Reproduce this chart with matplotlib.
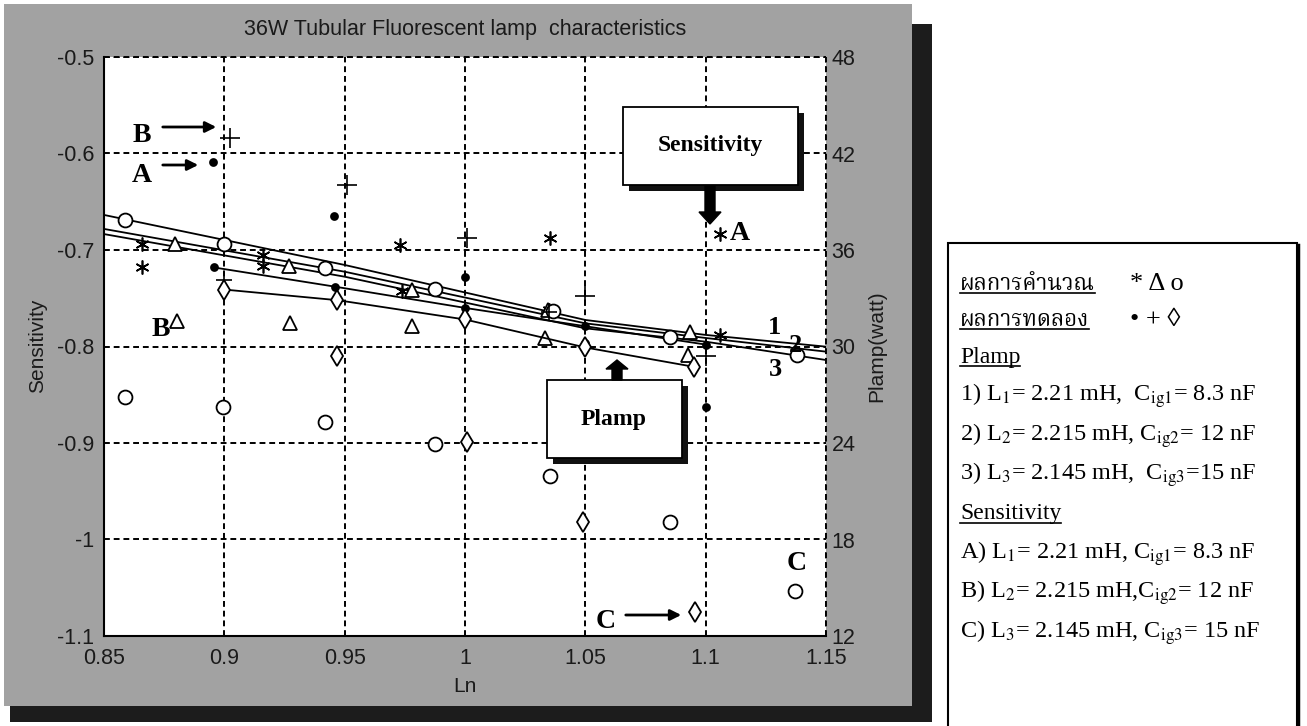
import matplotlib
matplotlib.use('Agg')
import matplotlib.pyplot as plt
from matplotlib import font_manager, ft2font
from matplotlib.patches import Rectangle, FancyArrow
from matplotlib.transforms import Affine2D

# ---------------- data ----------------
ln_ticks = [0.85, 0.9, 0.95, 1.0, 1.05, 1.1, 1.15]
sens_ticks = [-1.1, -1.0, -0.9, -0.8, -0.7, -0.6, -0.5]
sens_tick_labels = ['-1.1', '-1', '-0.9', '-0.8', '-0.7', '-0.6', '-0.5']
plamp_ticks = [12, 18, 24, 30, 36, 42, 48]

# Sensitivity (left axis)
sensA_calc_x = [0.8657, 0.916, 0.973, 1.0353, 1.106]
sensA_calc_y = [-0.718, -0.705, -0.695, -0.688, -0.683]
sensA_exp_x = [0.8954, 0.9457, 1.0, 1.05, 1.1]
sensA_exp_y = [-0.6085, -0.665, -0.728, -0.796, -0.863]
sensB_calc_x = [0.8802, 0.9273, 0.978, 1.0332, 1.0927]
sensB_calc_y = [-0.774, -0.776, -0.779, -0.791, -0.809]
sensB_exp_x = [0.9024, 0.9508, 1.0007, 1.0499, 1.1]
sensB_exp_y = [-0.584, -0.633, -0.688, -0.748, -0.81]
sensC_calc_x = [0.8587, 0.8996, 0.9418, 0.9875, 1.0353, 1.0852, 1.1371]
sensC_calc_y = [-0.852, -0.863, -0.878, -0.901, -0.934, -0.982, -1.053]
sensC_exp_x = [0.9467, 1.0007, 1.0492, 1.0956]
sensC_exp_y = [-0.810, -0.8985, -0.982, -1.075]

# Plamp (right axis, watt)
p1_calc_x = [0.8657, 0.916, 0.9737, 1.035, 1.106]
p1_calc_w = [36.36, 34.98, 33.48, 32.28, 30.72]
p2_calc_x = [0.8795, 0.927, 0.978, 1.0345, 1.0935]
p2_calc_w = [36.36, 34.98, 33.54, 32.28, 30.90]
p3_calc_x = [0.8587, 0.9, 0.9418, 0.9875, 1.0366, 1.085, 1.138]
p3_calc_w = [37.85, 36.4, 34.9, 33.6, 32.2, 30.6, 29.5]
p1_exp_x = [0.8955, 0.946, 1.0, 1.05, 1.1]
p1_exp_w = [34.92, 33.72, 32.40, 31.26, 30.12]
p2_exp_x = [0.9, 1.035]
p2_exp_w = [34.14, 32.16]
p3_exp_x = [0.9, 0.947, 1.0, 1.05, 1.095]
p3_exp_w = [33.54, 32.88, 31.68, 29.94, 28.74]

# fitted Plamp curves 1, 2, 3
fit_x = [0.85, 0.95, 1.05, 1.10, 1.15]
fit1_w = [38.18, 35.07, 31.65, 30.72, 29.99]
fit2_w = [37.31, 34.65, 31.44, 30.53, 29.68]
fit3_w = [36.99, 34.34, 31.13, 30.30, 29.16]

# ---------------- fonts ----------------
def find_family(ch, prefer=()):
    names = []
    for f in font_manager.fontManager.ttflist:
        try:
            if ord(ch) in ft2font.FT2Font(f.fname).get_charmap():
                names.append(f.name)
        except Exception:
            pass
    for p in prefer:
        if p in names:
            return p
    return names[0] if names else 'DejaVu Sans'

thai_family = find_family('ก', prefer=('Noto Serif Thai', 'Noto Sans Thai', 'Loma', 'Garuda', 'Norasi'))
plt.rcParams['mathtext.fontset'] = 'stix'
SANS = ['Liberation Sans', 'DejaVu Sans']
SERIF = ['Liberation Serif', thai_family, 'DejaVu Serif']

W, H = 1307, 726
fig = plt.figure(figsize=(W / 100, H / 100), dpi=100)
fig.patch.set_facecolor('white')
px = Affine2D().scale(1 / W, -1 / H).translate(0, 1) + fig.transFigure

def rect(x0, y0, x1, y1, **kw):
    r = Rectangle((x0, y0), x1 - x0, y1 - y0, transform=px, **kw)
    fig.add_artist(r)
    return r

# gray frame + shadow
rect(912, 24, 932, 722, facecolor='#1c1c1c', edgecolor='none', zorder=0)
rect(10, 705, 932, 722, facecolor='#1c1c1c', edgecolor='none', zorder=0)
rect(4, 4, 912, 706, facecolor='#a2a2a2', edgecolor='none', zorder=0)

# axes
ax = fig.add_axes([104 / W, 1 - 636 / H, 722 / W, 579 / H])
ax.set_facecolor('white')
ax.set_xlim(0.85, 1.15)
ax.set_ylim(-1.1, -0.5)
ax.set_xticks(ln_ticks)
ax.set_xticklabels(['0.85', '0.9', '0.95', '1', '1.05', '1.1', '1.15'])
ax.set_yticks(sens_ticks)
ax.set_yticklabels(sens_tick_labels)
for s in ['top', 'right']:
    ax.spines[s].set_visible(False)
for s in ['left', 'bottom']:
    ax.spines[s].set_linewidth(1.5)
ax.grid(True, color='black', linestyle=(0, (3, 2)), linewidth=1.4)
ax.axhline(-0.5, color='black', linestyle=(0, (3, 2)), linewidth=1.4, clip_on=False)
ax.axvline(1.15, color='black', linestyle=(0, (3, 2)), linewidth=1.4, clip_on=False)
ax.tick_params(length=0, labelsize=15.5, colors='#1a1a1a')
ax.tick_params(axis='y', pad=7)
ax.tick_params(axis='x', pad=9)
for lab in ax.get_xticklabels() + ax.get_yticklabels():
    lab.set_family(SANS)

ax2 = ax.twinx()
ax2.set_ylim(12, 48)
ax2.set_yticks(plamp_ticks)
ax2.tick_params(length=0, labelsize=15.5, pad=4, colors='#1a1a1a')
for lab in ax2.get_yticklabels():
    lab.set_family(SANS)
for s in ax2.spines.values():
    s.set_visible(False)

lk = dict(color='black', linewidth=1.3)
ax2.plot(fit_x, fit1_w, **lk)
ax2.plot(fit_x, fit2_w, **lk)
ax2.plot(fit_x, fit3_w, **lk)
ax2.plot(p1_exp_x, p1_exp_w, **lk)
ax2.plot(p3_exp_x, p3_exp_w, **lk)

def open_m(axis, x, y, m, ms, mew=1.3):
    axis.plot(x, y, linestyle='none', marker=m, markersize=ms, markerfacecolor='white',
              markeredgecolor='black', markeredgewidth=mew, clip_on=False)

def fill_m(axis, x, y, m, ms, mew=1.3):
    axis.plot(x, y, linestyle='none', marker=m, markersize=ms, color='black',
              markeredgewidth=mew, clip_on=False)

# Plamp markers
fill_m(ax2, p1_calc_x, p1_calc_w, (6, 2, 0), 10, 1.2)
open_m(ax2, p2_calc_x, p2_calc_w, '^', 10)
open_m(ax2, p3_calc_x, p3_calc_w, 'o', 10)
fill_m(ax2, p1_exp_x, p1_exp_w, 'o', 5)
fill_m(ax2, p2_exp_x, p2_exp_w, '+', 12, 1.2)
open_m(ax2, p3_exp_x, p3_exp_w, 'd', 10)

# Sensitivity markers
fill_m(ax, sensA_calc_x, sensA_calc_y, (6, 2, 0), 10, 1.2)
fill_m(ax, sensA_exp_x, sensA_exp_y, 'o', 5)
open_m(ax, sensB_calc_x, sensB_calc_y, '^', 10)
fill_m(ax, sensB_exp_x, sensB_exp_y, '+', 14, 1.2)
open_m(ax, sensC_calc_x, sensC_calc_y, 'o', 10)
open_m(ax, sensC_exp_x, sensC_exp_y, 'd', 10)

# ---------------- annotations (image pixel coords) ----------------
def t(x, y, s, size=15, family=SERIF, weight='bold', ha='center', va='center', **kw):
    return fig.text(x, y, s, transform=px, fontsize=size, family=family, weight=weight,
                    ha=ha, va=va, **kw)

def arrow(x0, y0, x1, y1):
    fig.add_artist(matplotlib.patches.FancyArrowPatch((x0, y0), (x1, y1), transform=px,
                   arrowstyle='-|>', mutation_scale=16, lw=2, color='black'))

t(142, 135, 'B', 20)
arrow(160, 127, 219, 127)
t(142, 175, 'A', 20)
arrow(160, 165, 201, 165)
t(161, 329, 'B', 20)
t(740, 234, 'A', 20)
t(774, 327, '1', 19)
t(795, 346, '2', 19)
t(775, 369, '3', 19)
t(797, 563, 'C', 20)
t(606, 622, 'C', 20)
arrow(623, 615, 684, 615)

# Sensitivity box
rect(629, 113, 804, 191, facecolor='#111111', edgecolor='none', zorder=5)
rect(623, 107, 798, 185, facecolor='white', edgecolor='black', lw=1.3, zorder=6)
t(710, 146, 'Sensitivity', 17, zorder=7)
fig.add_artist(FancyArrow(710, 186, 0, 38, width=10, head_width=22, head_length=12,
                          length_includes_head=True, transform=px, color='black', zorder=6))
# Plamp box
rect(553, 386, 688, 464, facecolor='#111111', edgecolor='none', zorder=5)
rect(547, 380, 682, 458, facecolor='white', edgecolor='black', lw=1.3, zorder=6)
t(614, 420, 'Plamp', 17, zorder=7)
fig.add_artist(FancyArrow(617, 380, 0, -20, width=10, head_width=22, head_length=9,
                          length_includes_head=True, transform=px, color='black', zorder=6))

# titles / labels
t(465, 30, '36W Tubular Fluorescent lamp  characteristics', 15.5, SANS, 'normal', color='#1a1a1a')
t(465, 686, 'Ln', 15, SANS, 'normal', color='#1a1a1a')
t(38, 346, 'Sensitivity', 15, SANS, 'normal', rotation=90, color='#1a1a1a')
t(877, 346, 'Plamp(watt)', 15, SANS, 'normal', rotation=90, color='#1a1a1a')

# ---------------- legend panel ----------------
rect(948, 243, 1297, 760, facecolor='white', edgecolor='black', lw=1.5, zorder=1)
fig.add_artist(matplotlib.lines.Line2D([1298, 1298], [245, 726], transform=px, color='black', lw=2.5))

underline = []
underline.append(t(960, 284, 'ผลการคำนวณ', 16, [thai_family, 'DejaVu Sans'], 'normal', ha='left'))
t(1130, 284, '* Δ o', 19, SERIF, 'normal', ha='left')
underline.append(t(960, 320, 'ผลการทดลอง', 16, [thai_family, 'DejaVu Sans'], 'normal', ha='left'))
t(1130, 320, '• + ◊', 19, SERIF, 'normal', ha='left')
underline.append(t(960, 357, 'Plamp', 17, SERIF, 'normal', ha='left'))
rows = [
    (396, '1) L$_1$= 2.21 mH,  C$_{\\mathrm{ig1}}$= 8.3 nF'),
    (436, '2) L$_2$= 2.215 mH, C$_{\\mathrm{ig2}}$= 12 nF'),
    (475, '3) L$_3$= 2.145 mH,  C$_{\\mathrm{ig3}}$=15 nF'),
    (554, 'A) L$_1$= 2.21 mH, C$_{\\mathrm{ig1}}$= 8.3 nF'),
    (593, 'B) L$_2$= 2.215 mH,C$_{\\mathrm{ig2}}$= 12 nF'),
    (633, 'C) L$_3$= 2.145 mH, C$_{\\mathrm{ig3}}$= 15 nF'),
]
for y, s in rows:
    t(960, y, s, 17.5, SERIF, 'normal', ha='left')
underline.append(t(960, 514, 'Sensitivity', 17, SERIF, 'normal', ha='left'))

fig.canvas.draw()
r = fig.canvas.get_renderer()
inv = px.inverted()
for tx in underline:
    bb = tx.get_window_extent(r)
    (x0, y0), (x1, y1) = inv.transform([(bb.x0, bb.y0), (bb.x1, bb.y1)])
    fig.add_artist(matplotlib.lines.Line2D([x0, x1], [y0 - 2, y0 - 2], transform=px,
                                           color='black', lw=1.2))

fig.savefig('out.png', dpi=100)
